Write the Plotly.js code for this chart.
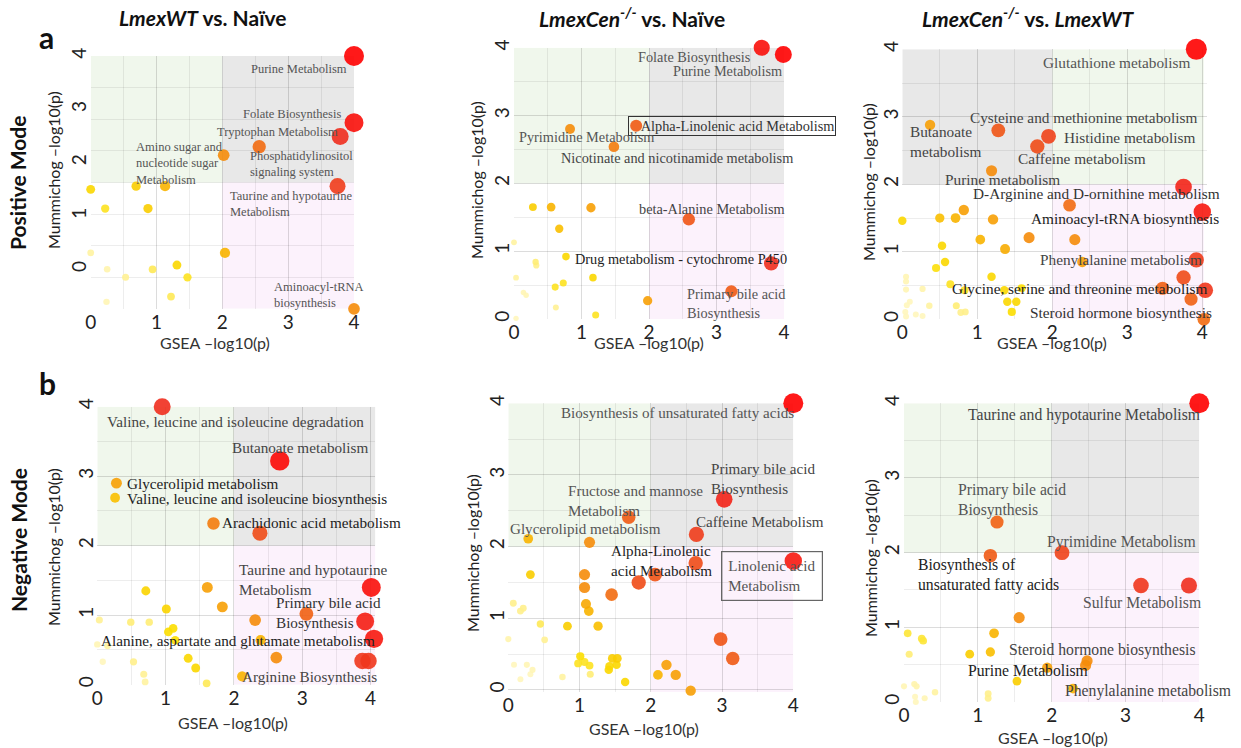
<!DOCTYPE html>
<html><head><meta charset="utf-8">
<script src="https://cdn.plot.ly/plotly-3.0.1.min.js"></script>
<style>html,body{margin:0;padding:0;background:#fff}#chart{width:1241px;height:748px}</style>
</head><body><div id="chart"></div>
<script>
// ---------- DATA (GSEA -log10 p, Mummichog -log10 p, combined significance 0..1) ----------
// a) Positive mode, LmexWT vs Naive
const pos_wt_gsea = [4.0, 4.0, 3.79, 2.56, 2.02, 3.75, 4.0, 0.0, 0.69, 1.13, 0.22, 0.87, 0.0, 2.04, 0.25, 0.94, 1.31, 0.53, 1.47, 0.24, 1.22];
const pos_wt_mum  = [4.0, 2.75, 2.49, 2.3, 2.14, 1.56, -0.74, 1.5, 1.56, 1.56, 1.14, 1.14, 0.31, 0.31, 0.0, 0.0, 0.08, -0.15, -0.15, -0.61, -0.51];
const pos_wt_sig  = [1.0, 0.95, 0.85, 0.65, 0.55, 0.8, 0.55, 0.35, 0.38, 0.45, 0.3, 0.38, 0.15, 0.45, 0.12, 0.25, 0.35, 0.18, 0.3, 0.1, 0.25];
const pos_wt_labels = ["Purine Metabolism","Folate Biosynthesis","Tryptophan Metabolism","Amino sugar and<br>nucleotide sugar<br>Metabolism","Phosphatidylinositol<br>signaling system","Taurine and hypotaurine<br>Metabolism","Aminoacyl-tRNA<br>biosynthesis"];

// Positive mode, LmexCen-/- vs Naive
const pos_cen_gsea = [3.67, 3.99, 1.81, 0.83, 1.48, 2.59, 3.81, 3.22, 1.98, 0.28, 0.55, 1.14, 0.67, 0.0, 0.77, 0.32, 0.33, 0.03, 1.17, 0.61, 0.73, 0.14, 0.18, 0.62, 1.21, 0.03];
const pos_cen_mum  = [4.0, 3.9, 2.85, 2.8, 2.54, 1.47, 0.82, 0.41, 0.27, 1.65, 1.65, 1.64, 1.33, 1.13, 0.92, 0.84, 0.79, 0.61, 0.61, 0.47, 0.53, 0.39, 0.35, 0.17, 0.06, 0.01];
const pos_cen_sig  = [0.95, 1.0, 0.7, 0.55, 0.6, 0.72, 0.85, 0.7, 0.5, 0.38, 0.45, 0.5, 0.42, 0.15, 0.35, 0.22, 0.2, 0.15, 0.35, 0.3, 0.3, 0.1, 0.1, 0.18, 0.3, 0.08];
const pos_cen_labels = ["Folate Biosynthesis","Purine Metabolism","\u00a0\u00a0\u00a0Alpha-Linolenic acid Metabolism","Pyrimidine Metabolism","Nicotinate and nicotinamide metabolism","beta-Alanine Metabolism","Drug metabolism - cytochrome P450","Primary bile acid<br>Biosynthesis"];

// Positive mode, LmexCen-/- vs LmexWT
const pos_cw_gsea = [3.92, 0.37, 1.28, 1.95, 1.8, 1.19, 3.75, 4.0, 2.23, 3.92, 2.4, 2.3, 3.75, 3.47, 4.04, 3.85, 4.02, 0.0, 0.5, 0.71, 0.82, 1.21, 1.04, 1.37, 1.69, 0.53, 0.57, 0.45, 1.19, 0.64, 0.83, 1.36, 1.59, 1.4, 1.52, 1.46, 0.72, 0.78, 0.84, 0.36, 0.05, 0.05, 0.05, 0.27, 0.1, 0.06, 0.04, 0.18, 0.27, 0.05];
const pos_cw_mum  = [4.0, 2.88, 2.8, 2.71, 2.56, 2.2, 1.96, 1.59, 1.69, 0.88, 0.85, 1.18, 0.62, 0.46, 0.43, 0.3, 0.0, 1.46, 1.5, 1.5, 1.62, 1.48, 1.18, 1.04, 1.21, 1.09, 0.85, 0.76, 0.63, 0.52, 0.43, 0.43, 0.46, 0.26, 0.26, 0.11, 0.2, 0.1, 0.11, 0.2, 0.63, 0.56, 0.44, 0.45, 0.26, 0.21, 0.11, 0.07, 0.05, 0.04];
const pos_cw_sig  = [1.1, 0.5, 0.72, 0.78, 0.75, 0.55, 0.88, 0.92, 0.65, 0.8, 0.5, 0.55, 0.75, 0.68, 0.82, 0.68, 0.65, 0.35, 0.42, 0.45, 0.5, 0.5, 0.45, 0.47, 0.55, 0.35, 0.35, 0.32, 0.35, 0.3, 0.3, 0.35, 0.33, 0.35, 0.35, 0.33, 0.22, 0.2, 0.2, 0.15, 0.1, 0.1, 0.1, 0.12, 0.08, 0.08, 0.08, 0.08, 0.08, 0.08];
const pos_cw_labels = ["Glutathione metabolism","Cysteine and methionine metabolism","Butanoate<br>metabolism","Histidine metabolism","Caffeine metabolism","Purine metabolism","D-Arginine and D-ornithine metabolism","Aminoacyl-tRNA biosynthesis","Phenylalanine metabolism","Glycine, serine and threonine metabolism","Steroid hormone biosynthesis"];

// b) Negative mode, LmexWT vs Naive
const neg_wt_gsea = [0.95, 2.67, 0.28, 0.26, 1.7, 2.38, 4.01, 1.61, 0.71, 1.83, 1.01, 3.06, 2.31, 3.92, 4.05, 2.39, 2.62, 3.88, 3.97, 2.12, 0.03, 0.49, 0.76, 1.04, 1.11, 1.14, 0.15, 0.0, 1.33, 1.44, 0.53, 0.08, 0.68, 0.7, 1.6];
const neg_wt_mum  = [4.0, 3.22, 2.9, 2.69, 2.32, 2.18, 1.4, 1.4, 1.35, 1.12, 1.09, 1.02, 0.93, 0.91, 0.66, 0.64, 0.39, 0.34, 0.34, 0.12, 0.93, 0.9, 0.9, 0.76, 0.81, 0.64, 0.56, 0.58, 0.38, 0.24, 0.33, 0.33, 0.15, 0.04, 0.02];
const neg_wt_sig  = [0.85, 0.97, 0.5, 0.42, 0.6, 0.75, 0.95, 0.5, 0.36, 0.5, 0.36, 0.68, 0.55, 0.9, 0.92, 0.45, 0.55, 0.82, 0.82, 0.45, 0.18, 0.22, 0.22, 0.33, 0.33, 0.33, 0.15, 0.1, 0.35, 0.35, 0.2, 0.08, 0.18, 0.15, 0.25];
const neg_wt_labels = ["Valine, leucine and isoleucine degradation","Butanoate metabolism","Glycerolipid metabolism","Valine, leucine and isoleucine biosynthesis","Arachidonic acid metabolism","Taurine and hypotaurine<br>Metabolism","Primary bile acid<br>Biosynthesis","Alanine, aspartate and glutamate metabolism","Arginine Biosynthesis"];

// Negative mode, LmexCen-/- vs Naive
const neg_cen_gsea = [4.0, 3.03, 1.69, 2.64, 0.28, 1.14, 4.0, 2.63, 2.06, 1.83, 0.31, 1.07, 1.07, 1.45, 1.09, 1.13, 0.07, 0.21, 0.17, 0.45, 0.83, 1.26, 0.0, 0.51, 2.98, 3.15, 1.01, 0.98, 1.07, 1.14, 1.46, 1.53, 1.42, 1.52, 1.41, 1.15, 1.64, 2.22, 2.1, 2.35, 2.56, 0.08, 0.26, 0.34, 0.31, 0.17, 0.76];
const neg_cen_mum  = [4.0, 2.66, 2.41, 2.17, 2.11, 2.06, 1.8, 1.77, 1.61, 1.5, 1.61, 1.61, 1.43, 1.33, 1.2, 1.1, 1.21, 1.14, 1.1, 0.92, 0.89, 0.89, 0.71, 0.7, 0.71, 0.44, 0.47, 0.37, 0.39, 0.34, 0.44, 0.44, 0.33, 0.35, 0.28, 0.22, 0.11, 0.35, 0.21, 0.21, -0.01, 0.35, 0.35, 0.28, 0.22, 0.15, 0.18];
const neg_cen_sig  = [1.05, 0.88, 0.7, 0.8, 0.45, 0.55, 0.92, 0.75, 0.72, 0.75, 0.38, 0.55, 0.55, 0.65, 0.48, 0.45, 0.2, 0.2, 0.2, 0.25, 0.38, 0.42, 0.12, 0.18, 0.72, 0.7, 0.33, 0.3, 0.3, 0.3, 0.38, 0.38, 0.35, 0.35, 0.35, 0.22, 0.35, 0.5, 0.45, 0.5, 0.5, 0.08, 0.1, 0.1, 0.08, 0.08, 0.15];
const neg_cen_labels = ["Biosynthesis of unsaturated fatty acids","Primary bile acid<br>Biosynthesis","Fructose and mannose<br>Metabolism","Caffeine Metabolism","Glycerolipid metabolism","Alpha-Linolenic<br>acid Metabolism","Linolenic acid<br>Metabolism"];

// Negative mode, LmexCen-/- vs LmexWT
const neg_cw_gsea = [4.0, 1.26, 1.17, 2.14, 3.21, 3.86, 1.56, 1.22, 1.17, 0.89, 1.94, 2.48, 2.46, 2.29, 1.53, 0.05, 0.24, 0.26, 0.07, 0.0, 0.14, 0.17, 0.42, 0.15, 0.28, 0.16, 1.14, 1.14];
const neg_cw_mum  = [4.0, 2.41, 1.96, 2.0, 1.56, 1.56, 1.13, 0.92, 0.67, 0.64, 0.46, 0.55, 0.49, 0.18, 0.28, 0.92, 0.85, 0.82, 0.64, 0.21, 0.24, 0.21, 0.13, 0.07, 0.05, 0.0, 0.11, 0.05];
const neg_cw_sig  = [1.05, 0.68, 0.7, 0.78, 0.82, 0.85, 0.55, 0.45, 0.42, 0.38, 0.5, 0.55, 0.55, 0.45, 0.38, 0.28, 0.28, 0.28, 0.22, 0.1, 0.12, 0.12, 0.15, 0.08, 0.1, 0.08, 0.2, 0.2];
const neg_cw_labels = ["Taurine and hypotaurine Metabolism","Primary bile acid<br>Biosynthesis","Pyrimidine Metabolism","Biosynthesis of<br>unsaturated fatty acids","Sulfur Metabolism","Steroid hormone biosynthesis","Purine Metabolism","Phenylalanine metabolism"];

const xTitle = "GSEA \u2013log10(p)";
const yTitle = "Mummichog \u2013log10(p)";
const headers = ["<b><i>LmexWT</i> vs. Naïve</b>", "<b><i>LmexCen<sup>-/-</sup></i> vs. Naïve</b>", "<b><i>LmexCen<sup>-/-</sup></i> vs. <i>LmexWT</i></b>"];
const rowTitles = ["Positive Mode", "Negative Mode"];

// ---------- LAYOUT SPEC ----------
const W = 1241, H = 748;
const panels = [
  {g:pos_wt_gsea, m:pos_wt_mum, s:pos_wt_sig, names:pos_wt_labels, px:[90.7,354], py:[56,308.8], xr:[0,4], yr:[-0.74,4], sx:4, thr:1.63, swap:false, k:1.0, fs:12.5,
   ygrid:{tick0:1.63, dtick:0.594}, xt:[215,343], yt:[53,170],
   lab:[[3.93,3.76,'right','#555'],[3.84,2.91,'right','#555'],[1.89,2.57,'left','#555'],[0.66,1.98,'left','#555'],[2.39,1.98,'left','#555'],[2.09,1.23,'left','#555'],[2.76,-0.49,'left','#555']]},
  {g:pos_cen_gsea, m:pos_cen_mum, s:pos_cen_sig, names:pos_cen_labels, px:[514,784], py:[47.7,319], xr:[0,4], yr:[0,4], sx:4, thr:2, swap:false, k:0.85, fs:14.3,
   xt:[649,343], yt:[477,180],
   lab:[[3.54,3.87,'right','#555'],[3.995,3.65,'right','#555'],[1.69,2.84,'left','#333','box1'],[0.05,2.68,'left','#555'],[0.66,2.38,'left','#444'],[1.82,1.62,'left','#444'],[0.88,0.88,'left','#222'],[2.54,0.23,'left','#555']]},
  {g:pos_cw_gsea, m:pos_cw_mum, s:pos_cw_sig, names:pos_cw_labels, px:[902.3,1206.8], py:[49.3,319.3], xr:[0,4.06], yr:[0,4], sx:4.02, thr:2, swap:true, k:0.95, fs:15.3,
   xt:[1052,343], yt:[869,182],
   lab:[[3.88,3.81,'right','#555'],[0.87,2.99,'left','#444'],[0.07,2.63,'left','#444'],[2.13,2.69,'left','#444'],[1.52,2.38,'left','#444'],[0.54,2.07,'left','#444'],[0.92,1.87,'left','#333'],[1.69,1.49,'left','#222'],[1.81,0.89,'left','#444'],[0.63,0.45,'left','#222'],[1.68,0.1,'left','#333']]},
  {g:neg_wt_gsea, m:neg_wt_mum, s:neg_wt_sig, names:neg_wt_labels, px:[97.3,375.4], py:[406.7,684.7], xr:[0,4.07], yr:[0,4], sx:4.07, thr:2, swap:false, k:1.0, fs:15.2,
   xt:[233,722], yt:[53,547],
   lab:[[0.11,3.79,'left','#444'],[1.94,3.41,'left','#444'],[0.4,2.89,'left','#222'],[0.4,2.68,'left','#222'],[1.8,2.34,'left','#222'],[2.05,1.51,'left','#444'],[2.58,1.04,'left','#333'],[0.02,0.64,'left','#222'],[2.09,0.12,'left','#444']]},
  {g:neg_cen_gsea, m:neg_cen_mum, s:neg_cen_sig, names:neg_cen_labels, px:[508.3,793.3], py:[403.3,692.1], xr:[0,4], yr:[-0.03,4], sx:4, thr:2, swap:false, k:0.95, fs:15.1,
   xt:[644,728], yt:[472,553],
   lab:[[0.71,3.87,'left','#555'],[2.81,2.94,'left','#444'],[0.81,2.64,'left','#555'],[2.6,2.35,'left','#444'],[0.0,2.24,'left','#555'],[1.41,1.8,'left','#222'],[3.7,1.59,'center','#555','box2']]},
  {g:neg_cw_gsea, m:neg_cw_mum, s:neg_cw_sig, names:neg_cw_labels, px:[904,1199.3], py:[403.3,702], xr:[0,4], yr:[0,4], sx:4, thr:2, swap:false, k:0.95, fs:15.7,
   xt:[1053,737], yt:[870,558],
   lab:[[0.84,3.85,'left','#444'],[0.71,2.71,'left','#555'],[1.91,2.14,'left','#555'],[0.16,1.7,'left','#222'],[2.4,1.33,'left','#555'],[1.39,0.69,'left','#444'],[0.84,0.42,'left','#222'],[2.16,0.15,'left','#444']]}
];

const colorscale = [
  [0.0, 'rgb(255,250,222)'], [0.2, 'rgb(255,240,140)'], [0.33, 'rgb(252,222,0)'], [0.45, 'rgb(248,180,0)'],
  [0.55, 'rgb(245,140,10)'], [0.7, 'rgb(240,90,20)'], [0.85, 'rgb(240,45,30)'], [1.0, 'rgb(255,0,0)']
];
function sizeOf(s, k) { return k * (6 + 14 * Math.pow(Math.max(s, 0), 1.5)); }
const GREEN = 'rgb(240,247,236)', GREY = 'rgb(232,232,232)', PINK = 'rgb(252,242,252)';
const GRID = 'rgba(0,0,0,0.07)';
const SANS = 'Lato, "Open Sans", sans-serif';
const SERIF = '"Liberation Serif", "DejaVu Serif", serif';

const traces = [], shapes = [], annotations = [];
const layout = {
  width: W, height: H, margin: {l:0, r:0, t:0, b:0},
  paper_bgcolor: '#fff', plot_bgcolor: '#fff', showlegend: false
};
const pxX = v => v / W, pxY = v => 1 - v / H;

panels.forEach((p, i) => {
  const n = i + 1, xs = n === 1 ? '' : String(n);
  const xa = 'x' + xs, ya = 'y' + xs;
  layout['xaxis' + xs] = {
    domain: [pxX(p.px[0]), pxX(p.px[1])], range: p.xr, anchor: ya,
    showline: false, zeroline: false, ticks: '', tickmode: 'array', tickvals: [0,1,2,3,4],
    showgrid: true, gridcolor: GRID, minor: {dtick: 0.5, tick0: 0, showgrid: true, gridcolor: GRID},
    tickfont: {family: SANS, size: 19, color: '#222'}, fixedrange: true
  };
  const yax = {
    domain: [pxY(p.py[1]), pxY(p.py[0])], range: p.yr, anchor: xa,
    showline: false, zeroline: false, ticks: '', tickmode: 'array', tickvals: [0,1,2,3,4], tickangle: -90,
    showgrid: true, gridcolor: GRID, minor: {dtick: 0.5, tick0: 0, showgrid: true, gridcolor: GRID},
    tickfont: {family: SANS, size: 19, color: '#222'}, fixedrange: true
  };
  if (p.ygrid) { yax.showgrid = false; yax.minor = {tick0: p.ygrid.tick0, dtick: p.ygrid.dtick, showgrid: true, gridcolor: GRID}; }
  layout['yaxis' + xs] = yax;

  // quadrant shading
  const topLeft = p.swap ? GREY : GREEN, topRight = p.swap ? GREEN : GREY;
  shapes.push({type:'rect', xref:xa, yref:ya, x0:p.xr[0], x1:2, y0:p.thr, y1:p.yr[1], fillcolor:topLeft, line:{width:0}, layer:'below'});
  shapes.push({type:'rect', xref:xa, yref:ya, x0:2, x1:p.sx, y0:p.thr, y1:p.yr[1], fillcolor:topRight, line:{width:0}, layer:'below'});
  shapes.push({type:'rect', xref:xa, yref:ya, x0:2, x1:p.sx, y0:p.yr[0], y1:p.thr, fillcolor:PINK, line:{width:0}, layer:'below'});

  // points: sort so larger drawn on top
  const idx = p.g.map((_, j) => j).sort((a, b) => p.s[a] - p.s[b]);
  traces.push({
    type: 'scatter', mode: 'markers', xaxis: xa, yaxis: ya, cliponaxis: false, hoverinfo: 'x+y',
    x: idx.map(j => p.g[j]), y: idx.map(j => p.m[j]),
    marker: {
      color: idx.map(j => Math.min(p.s[j], 1)), colorscale: colorscale, cmin: 0, cmax: 1,
      size: idx.map(j => sizeOf(p.s[j], p.k)), opacity: 0.9, line: {width: 0}
    }
  });

  // pathway labels
  p.names.forEach((t, j) => {
    const L = p.lab[j];
    const a = {xref: xa, yref: ya, x: L[0], y: L[1], xanchor: L[2], yanchor: 'middle', showarrow: false,
      text: t, align: 'left', font: {family: SERIF, size: p.fs, color: L[3]}};
    if (L[4] === 'box1') { a.bordercolor = '#333'; a.borderwidth = 1; a.borderpad = 1; }
    if (L[4] === 'box2') { a.bordercolor = '#666'; a.borderwidth = 1.2; a.borderpad = 6; }
    annotations.push(a);
  });

  // axis titles
  annotations.push({xref:'paper', yref:'paper', x:pxX(p.xt[0]), y:pxY(p.xt[1]), xanchor:'center', yanchor:'middle',
    showarrow:false, text:xTitle, font:{family:SANS, size:16, color:'#333'}});
  annotations.push({xref:'paper', yref:'paper', x:pxX(p.yt[0]), y:pxY(p.yt[1]), xanchor:'center', yanchor:'middle',
    showarrow:false, text:yTitle, textangle:-90, font:{family:SANS, size:16, color:'#222'}});
});

// column headers
const headerPos = [[203,18],[632,17],[1028,17]];
headers.forEach((h, i) => annotations.push({xref:'paper', yref:'paper', x:pxX(headerPos[i][0]), y:pxY(headerPos[i][1]),
  xanchor:'center', yanchor:'middle', showarrow:false, text:h, font:{family:SANS, size:21, color:'#111'}}));
// row titles
const rowPos = [[18,183],[18,540]];
rowTitles.forEach((r, i) => annotations.push({xref:'paper', yref:'paper', x:pxX(rowPos[i][0]), y:pxY(rowPos[i][1]),
  xanchor:'center', yanchor:'middle', showarrow:false, text:'<b>' + r + '</b>', textangle:-90, font:{family:SANS, size:21, color:'#111'}}));
// panel letters
[['a',46,37],['b',47,383]].forEach(l => annotations.push({xref:'paper', yref:'paper', x:pxX(l[1]), y:pxY(l[2]),
  xanchor:'center', yanchor:'middle', showarrow:false, text:'<b>' + l[0] + '</b>', font:{family:SANS, size:30, color:'#111'}}));

layout.shapes = shapes;
layout.annotations = annotations;
Plotly.newPlot('chart', traces, layout, {staticPlot: true, displayModeBar: false});
</script></body></html>
